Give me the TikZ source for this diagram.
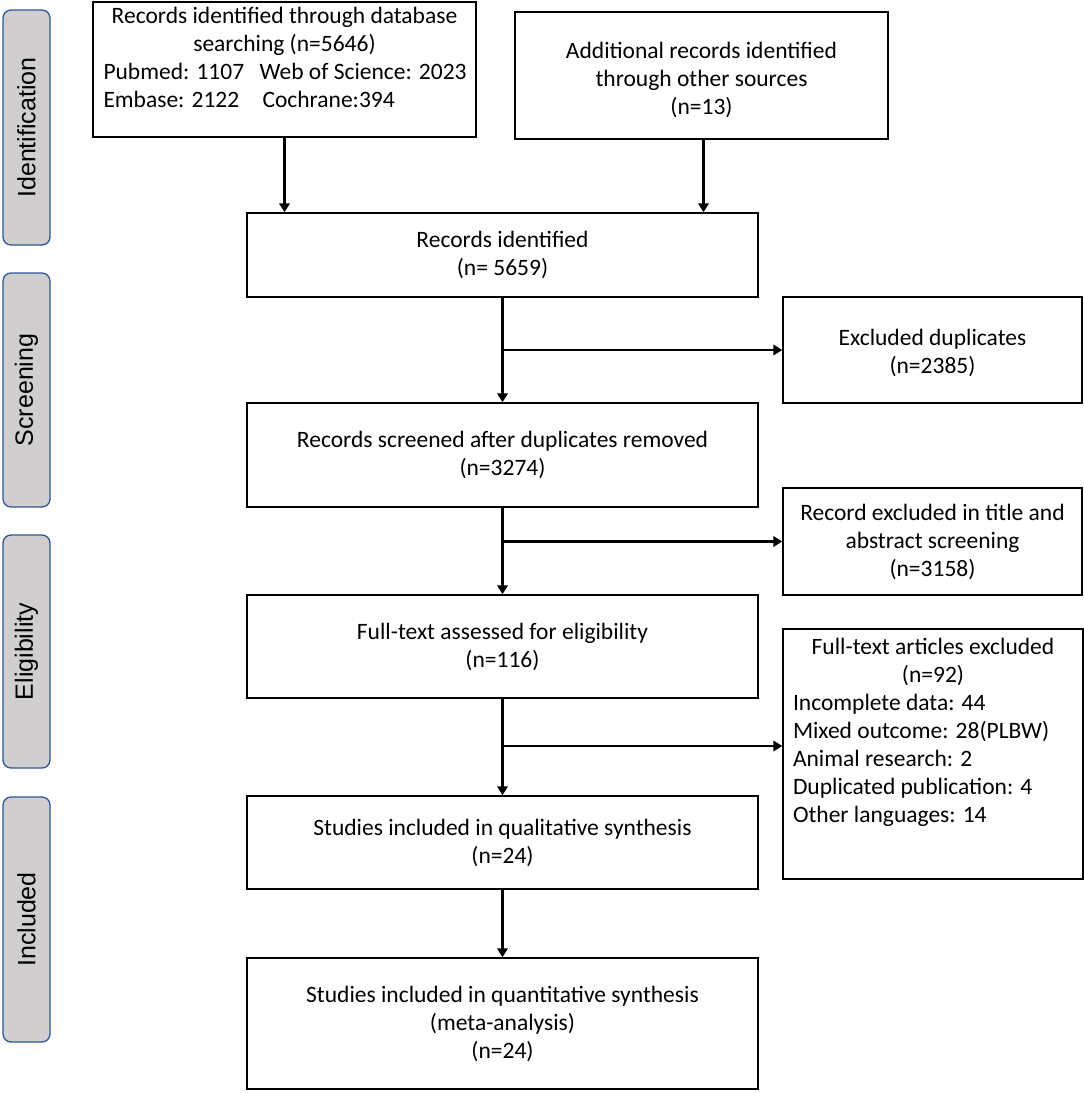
\documentclass[tikz,border=0pt]{standalone}
\usepackage{fontspec}
\setmainfont{Carlito}
\newfontfamily\sidefont{Liberation Sans}
\usetikzlibrary{arrows.meta}
\definecolor{sidefill}{HTML}{D0CECE}
\definecolor{sideline}{HTML}{2F5597}
\begin{document}
\begin{tikzpicture}[x=1pt,y=-1pt,
  box/.style={draw, line width=1.5pt, inner sep=0pt, align=center,
    font=\fontsize{23.5}{28}\selectfont},
  txt/.style={inner sep=0pt, align=center, font=\fontsize{23.5}{28}\selectfont},
  side/.style={draw=sideline, fill=sidefill, rounded corners=8pt, line width=1.3pt,
    minimum height=47pt, rotate=90, inner sep=0pt,
    font=\sidefont\fontsize{25}{28}\selectfont},
  arr/.style={line width=2.6pt, -{Triangle[length=9pt,width=10.5pt]}},
  ln/.style={line width=2.6pt}]
\useasboundingbox (0,0) rectangle (1084,1093);

% side labels
\node[side, minimum width=235pt] (sid) at (26.5,127.5) {Identification};
\node[side, minimum width=234pt] (sscr) at (26.5,390) {Screening};
\node[side, minimum width=233pt] (selig) at (26.5,651.5) {Eligibility};
\node[side, minimum width=245pt] (sincl) at (26.5,919.5) {Included};

% boxes
\node[box, minimum width=383pt, minimum height=135pt] (db) at (284.5,69.5) {};
\node[txt, anchor=north] (dbt) at (284.5,7) {Records identified through database\\
  searching (n=5646)\\
  \makebox[362pt][l]{\makebox[156pt][l]{Pubmed: 1107}Web of Science: 2023}\\
  \makebox[362pt][l]{\makebox[159pt][l]{Embase: 2122}Cochrane:394}};

\node[box, minimum width=373pt, minimum height=127pt] (other) at (701.5,75.5) {};
\node[txt] (othert) at (701.5,80) {Additional records identified\\through other sources\\(n=13)};

\node[box, minimum width=511pt, minimum height=84pt] (ident) at (502.5,255) {Records identified\\(n= 5659)};
\node[box, minimum width=299pt, minimum height=106pt] (excl1) at (932.5,350) {};
\node[txt] (excl1t) at (932.5,353) {Excluded duplicates\\(n=2385)};
\node[box, minimum width=511pt, minimum height=104pt] (scr) at (502.5,455) {Records screened after duplicates removed\\(n=3274)};
\node[box, minimum width=299pt, minimum height=107pt] (excl2) at (932.5,541.5) {Record excluded in title and\\abstract screening\\(n=3158)};
\node[box, minimum width=511pt, minimum height=103pt] (full) at (502.5,646.5) {Full-text assessed for eligibility\\(n=116)};
\node[box, minimum width=300pt, minimum height=250pt] (excl3) at (933,754) {};
\node[txt, anchor=north] (excl3t) at (933,638) {Full-text articles excluded\\(n=92)\\
  \makebox[280pt][l]{Incomplete data: 44}\\
  \makebox[280pt][l]{Mixed outcome: 28(PLBW)}\\
  \makebox[280pt][l]{Animal research: 2}\\
  \makebox[280pt][l]{Duplicated publication: 4}\\
  \makebox[280pt][l]{Other languages: 14}};
\node[box, minimum width=511pt, minimum height=93pt] (qual) at (502.5,842.5) {Studies included in qualitative synthesis\\(n=24)};
\node[box, minimum width=511pt, minimum height=131pt] (quant) at (502.5,1023.5) {Studies included in quantitative synthesis\\(meta-analysis)\\(n=24)};

% connectors
\draw[arr] (db.south) -- (db.south |- ident.north);
\coordinate (otherfoot) at (703.5,139);
\draw[arr] (otherfoot) -- (otherfoot |- ident.north);
\draw[arr] (ident.south) -- (scr.north);
\draw[arr] (ident.south |- excl1.west) -- (excl1.west);
\draw[arr] (scr.south) -- (full.north);
\draw[arr] (scr.south |- excl2.west) -- (excl2.west);
\draw[arr] (full.south) -- (qual.north);
\coordinate (b3) at (502.5,746);
\draw[arr] (b3) -- (b3 -| excl3.west);
\draw[arr] (qual.south) -- (quant.north);
\end{tikzpicture}
\end{document}
